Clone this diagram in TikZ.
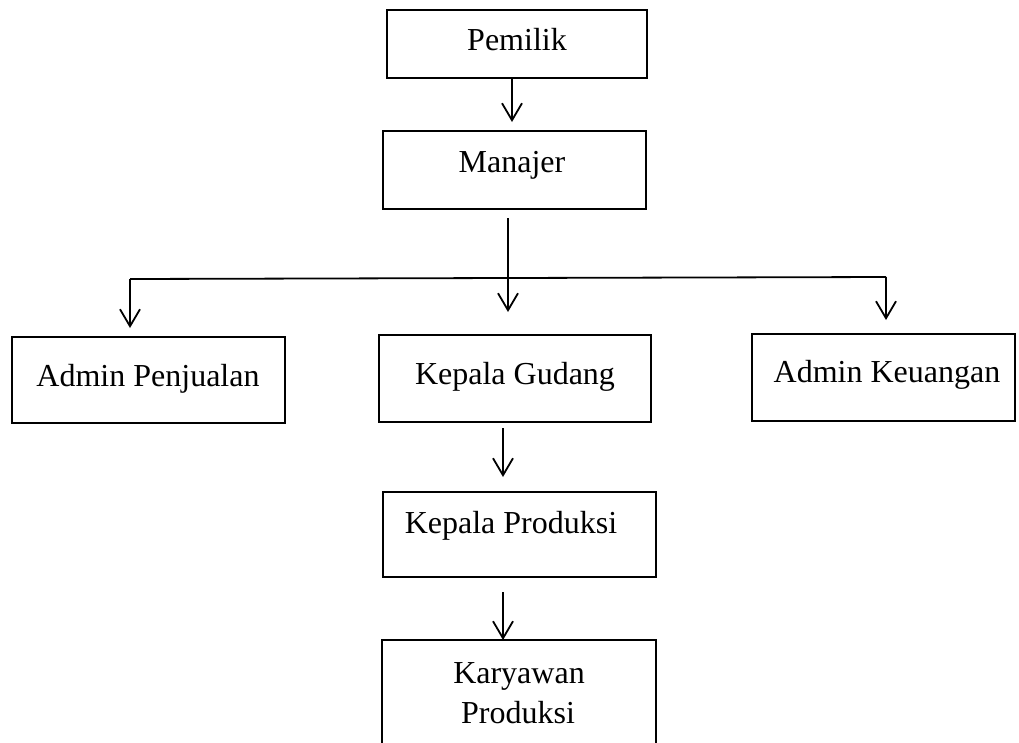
\documentclass[tikz,border=0pt]{standalone}
\usepackage{fontspec}
\setmainfont{Liberation Serif}
\usetikzlibrary{arrows.meta,calc}
\begin{document}
\begin{tikzpicture}[x=1pt,y=-1pt,
  box/.style={draw=black,line width=2.2pt,rectangle,inner sep=0pt,outer sep=0pt},
  lbl/.style={anchor=base,inner sep=0pt,font=\fontsize{32}{38}\selectfont},
  arr/.style={line width=1.8pt,-{Straight Barb[length=17pt,width=20pt]}},
  ln/.style={line width=1.8pt}]
\useasboundingbox (0,0) rectangle (1019,742);
\clip (0,0) rectangle (1019,742);
% boxes
\node[box,minimum width=260pt,minimum height=68pt] (pem) at (517,44) {};
\node[box,minimum width=263pt,minimum height=78pt] (man) at (514.5,170) {};
\node[box,minimum width=273pt,minimum height=86pt] (ap) at (148.5,380) {};
\node[box,minimum width=272pt,minimum height=87pt] (kg) at (515,378.5) {};
\node[box,minimum width=263pt,minimum height=87pt] (ak) at (883.5,377.5) {};
\node[box,minimum width=273pt,minimum height=85pt] (kp) at (519.5,534.5) {};
\node[box,minimum width=274pt,minimum height=110pt] (kw) at (519,695) {};
% texts
\node[lbl] (tpem) at (517,50) {Pemilik};
\node[lbl] (tman) at (512,172) {Manajer};
\node[lbl] (tap) at (148,386) {Admin Penjualan};
\node[lbl] (tkg) at (515,384) {Kepala Gudang};
\node[lbl] (tak) at (887,382) {Admin Keuangan};
\node[lbl] (tkp) at (511,533) {Kepala Produksi};
\node[lbl] (tkw1) at (519,683) {Karyawan};
\node[lbl] (tkw2) at (518,723) {Produksi};
% junction coordinates
\coordinate (jl) at (130,279);
\coordinate (jr) at (886,277);
\coordinate (jc) at (508,278);
\coordinate (c1) at (503,0);
% connectors
\draw[arr,shorten >=9pt] (pem.south -| 512,0) -- (man.north -| 512,0);
\draw[ln] (jl) -- (jr);
\draw[arr,shorten <=9pt,shorten >=23pt] (jc |- man.south) -- (jc |- kg.north);
\draw[arr,shorten >=9pt] (jl) -- (jl |- ap.north);
\draw[arr,shorten >=14pt] (jr) -- (jr |- ak.north);
\draw[arr,shorten <=6pt,shorten >=15pt] (c1 |- kg.south) -- (c1 |- kp.north);
\draw[arr,shorten <=15pt] (c1 |- kp.south) -- (c1 |- kw.north);
\end{tikzpicture}
\end{document}
